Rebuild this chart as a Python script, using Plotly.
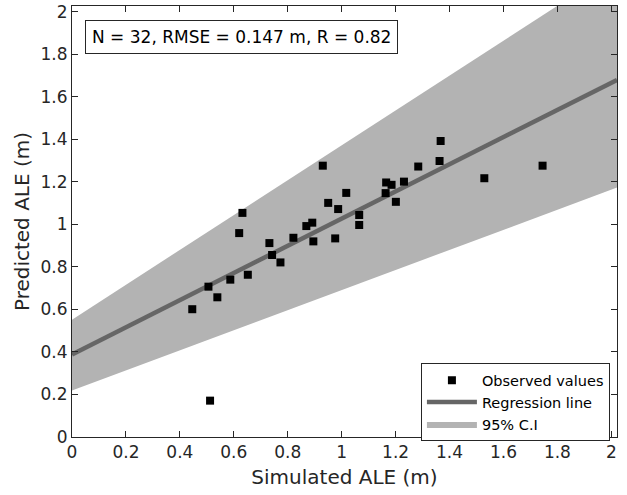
import plotly.graph_objects as go

# Observed values (Simulated ALE vs Predicted ALE), metres
simulated = [0.446, 0.512, 0.506, 0.539, 0.587, 0.652, 0.620, 0.632, 0.732, 0.742,
             0.773, 0.821, 0.869, 0.891, 0.895, 0.930, 0.950, 0.976, 0.987, 1.017,
             1.065, 1.065, 1.165, 1.185, 1.163, 1.201, 1.231, 1.284, 1.367, 1.363,
             1.529, 1.745]
predicted = [0.601, 0.171, 0.707, 0.657, 0.740, 0.763, 0.959, 1.054, 0.912, 0.856,
             0.821, 0.937, 0.992, 1.008, 0.920, 1.276, 1.101, 0.934, 1.072, 1.148,
             1.044, 0.997, 1.197, 1.186, 1.147, 1.106, 1.201, 1.272, 1.392, 1.298,
             1.217, 1.276]

# Regression line and 95% C.I. bounds (intercept, slope)
reg_intercept, reg_slope = 0.388, 0.639
ci_upper_intercept, ci_upper_slope = 0.552, 0.820
ci_lower_intercept, ci_lower_slope = 0.219, 0.472

x_range = [0, 2.021]
y_range = [0, 2.027]
tick_vals = [0, 0.2, 0.4, 0.6, 0.8, 1, 1.2, 1.4, 1.6, 1.8, 2]
tick_text = ["0", "0.2", "0.4", "0.6", "0.8", "1", "1.2", "1.4", "1.6", "1.8", "2"]

stats_text = "N = 32, RMSE = 0.147 m, R = 0.82"

x0, x1 = x_range
band_x = [x0, x1, x1, x0, x0]
band_y = [ci_upper_intercept + ci_upper_slope * x0,
          ci_upper_intercept + ci_upper_slope * x1,
          ci_lower_intercept + ci_lower_slope * x1,
          ci_lower_intercept + ci_lower_slope * x0,
          ci_upper_intercept + ci_upper_slope * x0]

font_family = "DejaVu Sans, Verdana, sans-serif"
axis_color = "#262626"

fig = go.Figure()
fig.add_trace(go.Scatter(
    x=band_x, y=band_y, fill="toself", mode="lines",
    line=dict(width=0, color="#b3b3b3"), fillcolor="#b3b3b3",
    name="95% C.I", legendrank=3, hoverinfo="skip"))
fig.add_trace(go.Scatter(
    x=[x0, x1], y=[reg_intercept + reg_slope * x0, reg_intercept + reg_slope * x1],
    mode="lines", line=dict(color="#666666", width=4.5),
    name="Regression line", legendrank=2))
fig.add_trace(go.Scatter(
    x=simulated, y=predicted, mode="markers",
    marker=dict(symbol="square", color="black", size=8, line=dict(width=0)),
    name="Observed values", legendrank=1))

axis_common = dict(
    showline=True, linecolor=axis_color, linewidth=1, mirror="ticks",
    ticks="inside", ticklen=6, tickcolor=axis_color, tickwidth=1,
    showgrid=False, zeroline=False, automargin=False,
    tickvals=tick_vals, ticktext=tick_text,
    tickfont=dict(family=font_family, size=17, color=axis_color),
)

fig.update_xaxes(range=x_range, title=dict(text="Simulated ALE (m)", standoff=8,
                 font=dict(family=font_family, size=20, color=axis_color)), **axis_common)
fig.update_yaxes(range=y_range, title=dict(text="Predicted ALE (m)", standoff=5,
                 font=dict(family=font_family, size=20, color=axis_color)), **axis_common)

fig.add_annotation(
    xref="paper", yref="paper", x=(85 - 72) / 545, y=(437 - 20) / 431,
    xanchor="left", yanchor="top", text=stats_text, showarrow=False,
    font=dict(family=font_family, size=17, color="black"),
    bordercolor=axis_color, borderwidth=1, borderpad=6, bgcolor="white")

fig.update_layout(
    width=627, height=495,
    margin=dict(l=72, r=10, t=6, b=58),
    paper_bgcolor="white", plot_bgcolor="white",
    font=dict(family=font_family, color=axis_color),
    showlegend=True,
    legend=dict(x=0.987, y=0.171, xanchor="right", yanchor="top",
                bordercolor=axis_color, borderwidth=1, bgcolor="white",
                font=dict(family=font_family, size=14.5, color="black"),
                tracegroupgap=0, itemwidth=50),
)

fig.write_html("out.html",
               config={"displayModeBar": False},
               post_script="document.body.style.margin='0px';document.body.style.padding='0px';")
